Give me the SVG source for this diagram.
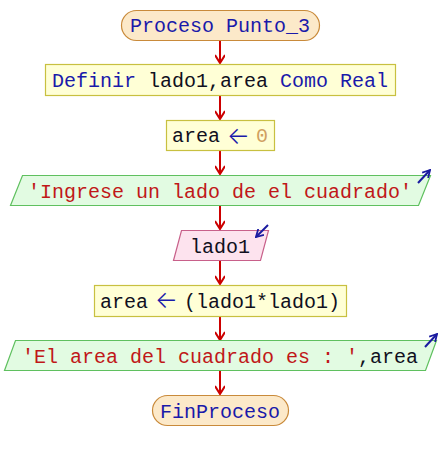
<svg xmlns="http://www.w3.org/2000/svg" width="440" height="460" viewBox="0 0 440 460">
<defs>
<style>
text{font-family:"Liberation Mono","Courier New",monospace;font-size:20px;text-anchor:middle}
text.l{text-anchor:start}
text.arr{font-family:Inter,"DejaVu Sans",sans-serif;font-size:24px;fill:#1a1aaa;font-weight:300}
.term{fill:#fce9c9;stroke:#c98a3a;stroke-width:1.2}
.proc{fill:#ffffd6;stroke:#c8c040;stroke-width:1.2}
.out{fill:#e2fbe2;stroke:#5fc05f;stroke-width:1.2}
.inp{fill:#fde3ee;stroke:#c8608a;stroke-width:1.2}
.kw{fill:#1a1aaa}
.id{fill:#101020}
.str{fill:#c01818}
.num{fill:#d0a060}
.conn line{stroke:#cc0000;stroke-width:2}
.ind{stroke:#1a1aa0;stroke-width:2;fill:none}
</style>
<marker id="ah" viewBox="0 0 10 10" refX="9" refY="5" markerWidth="10" markerHeight="10" markerUnits="userSpaceOnUse" orient="auto">
<path d="M1,0 L9,5 L1,10" fill="none" stroke="#cc0000" stroke-width="2"/>
</marker>
<marker id="bh" viewBox="0 0 10 10" refX="9" refY="5" markerWidth="9" markerHeight="9" markerUnits="userSpaceOnUse" orient="auto">
<path d="M1,0.5 L9,5 L1,9.5" fill="none" stroke="#1a1aa0" stroke-width="2"/>
</marker>
</defs>
<rect width="440" height="460" fill="#ffffff"/>
<g id="connectors" class="conn">
<line x1="220" y1="40" x2="220" y2="63" marker-end="url(#ah)"/>
<line x1="220" y1="95" x2="220" y2="119" marker-end="url(#ah)"/>
<line x1="220" y1="151" x2="220" y2="174" marker-end="url(#ah)"/>
<line x1="220" y1="205" x2="220" y2="229" marker-end="url(#ah)"/>
<line x1="220" y1="261" x2="220" y2="284" marker-end="url(#ah)"/>
<line x1="220" y1="316" x2="220" y2="340" marker-end="url(#ah)"/>
<line x1="220" y1="371" x2="220" y2="394" marker-end="url(#ah)"/>
</g>
<g id="start">
<rect class="term" x="121.5" y="10.5" width="198" height="30" rx="15"/>
<text x="220" y="32"><tspan class="kw">Proceso Punto_3</tspan></text>
</g>
<g id="definir">
<rect class="proc" x="45.5" y="64.5" width="350" height="31"/>
<text x="220" y="87"><tspan class="kw">Definir </tspan><tspan class="id">lado1,area </tspan><tspan class="kw">Como Real</tspan></text>
</g>
<g id="assign0">
<rect class="proc" x="166.5" y="120.5" width="108" height="30"/>
<text class="l" x="172" y="142"><tspan class="id">area</tspan></text>
<text class="arr" x="238.5" y="144">←</text>
<text class="l" x="256" y="142"><tspan class="num">0</tspan></text>
</g>
<g id="out1">
<polygon class="out" points="22.5,175.5 430.5,175.5 418.5,205.5 10.5,205.5"/>
<line class="ind" x1="418" y1="183" x2="430" y2="170" marker-end="url(#bh)"/>
<text x="220" y="198"><tspan class="str">'Ingrese un lado de el cuadrado'</tspan></text>
</g>
<g id="in1">
<polygon class="inp" points="181.5,230.5 268.5,230.5 260.5,260.5 173.5,260.5"/>
<line class="ind" x1="268" y1="225" x2="256" y2="237" marker-end="url(#bh)"/>
<text x="220" y="253"><tspan class="id">lado1</tspan></text>
</g>
<g id="assign1">
<rect class="proc" x="94.5" y="285.5" width="252" height="31"/>
<text class="l" x="100" y="308"><tspan class="id">area</tspan></text>
<text class="arr" x="166.5" y="308">←</text>
<text class="l" x="184" y="308"><tspan class="id">(lado1*lado1)</tspan></text>
</g>
<g id="out2">
<polygon class="out" points="15.5,340.5 436.5,340.5 425.5,370.5 4.5,370.5"/>
<line class="ind" x1="425" y1="347" x2="437" y2="334" marker-end="url(#bh)"/>
<text x="220" y="363"><tspan class="str">'El area del cuadrado es : '</tspan><tspan class="id">,area</tspan></text>
</g>
<g id="end">
<rect class="term" x="152.5" y="395.5" width="136" height="30" rx="15"/>
<text x="220" y="418"><tspan class="kw">FinProceso</tspan></text>
</g>
</svg>
